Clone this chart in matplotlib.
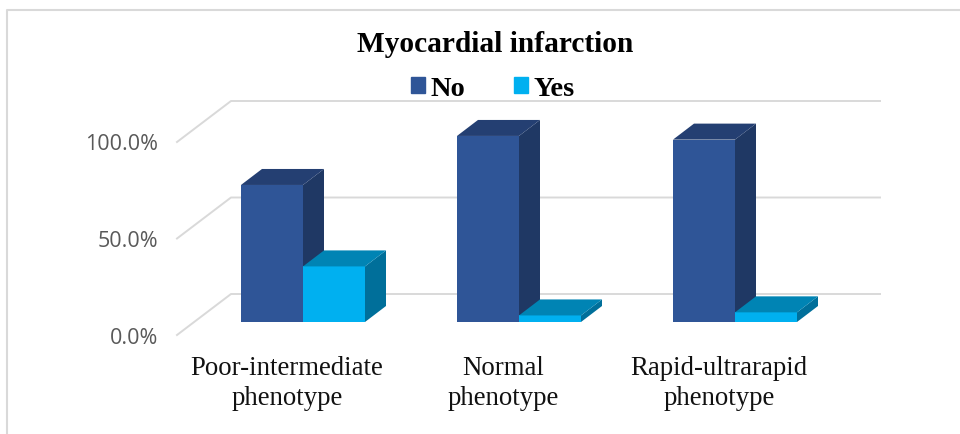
#!/usr/bin/env python3
"""Myocardial infarction by phenotype, drawn as a fake 3D bar chart."""
import matplotlib
matplotlib.use("Agg")
import matplotlib.pyplot as plt
from matplotlib.patches import Patch, Polygon

CATEGORIES = ["Poor-intermediate\nphenotype", "Normal\nphenotype", "Rapid-ultrarapid\nphenotype"]
NO_VALUES = [71.0, 96.4, 94.5]
YES_VALUES = [28.8, 3.4, 5.0]
Y_TICKS = [0, 50, 100]
Y_LABELS = ["0.0%", "50.0%", "100.0%"]
LABEL_CENTERS = [287, 503, 719]  # px

W, H = 960, 434
PX_X = 216.0  # px per category
PX_Y = 1.93  # px per percent
X0, Y0 = 303.0, 322.0  # pixel of first category / bar base
BAR_W = 62 / PX_X
DX, DY = 21 / PX_X, 16 / PX_Y  # bar depth
FLOOR_DY = 13 / PX_Y  # front of the floor is below the bar base
WALL_DX = 54 / PX_X
WALL_DY = 41 / PX_Y


def px_x(px):
    return (px - X0) / PX_X


def px_y(px):
    return (Y0 - px) / PX_Y


def bar_3d(ax, x, value, front, top, side):
    ax.bar(x, value, BAR_W, align="edge", color=front, edgecolor="none", zorder=3)
    ax.add_patch(Polygon([(x, value), (x + DX, value + DY), (x + BAR_W + DX, value + DY), (x + BAR_W, value)],
                         facecolor=top, edgecolor="none", zorder=3))
    ax.add_patch(Polygon([(x + BAR_W, 0), (x + BAR_W + DX, DY), (x + BAR_W + DX, value + DY), (x + BAR_W, value)],
                         facecolor=side, edgecolor="none", zorder=2.5))


fig = plt.figure(figsize=(W / 100, H / 100), dpi=100)
ax = fig.add_axes([0, 0, 1, 1])
ax.set_xlim(px_x(0), px_x(W))
ax.set_ylim(px_y(H), px_y(0))
ax.axis("off")

# chart frame, open on the right and at the bottom
ax.plot([px_x(7), px_x(7), px_x(W)], [px_y(H), px_y(10), px_y(10)], color="#d9d9d9", lw=1.5, zorder=1)

# gridlines with the slanted side wall
for tick, label in zip(Y_TICKS, Y_LABELS):
    left = px_x(177)
    y_front = tick - FLOOR_DY
    y_back = y_front + WALL_DY
    ax.plot([left, left + WALL_DX, px_x(880)], [y_front, y_back, y_back], color="#d9d9d9", lw=1.4, zorder=1)
    ax.text(px_x(158.5), y_front - 3 / PX_Y, label, ha="right", va="center", fontsize=15.5, family="Open Sans",
            color="#595959")

for i, name in enumerate(CATEGORIES):
    bar_3d(ax, i - BAR_W, NO_VALUES[i], "#2f5597", "#243f72", "#1f3864")
    bar_3d(ax, i, YES_VALUES[i], "#00b0f0", "#0084b4", "#006f9a")
    ax.text(px_x(LABEL_CENTERS[i]), px_y(383.5), name, ha="center", va="center", fontsize=19.3,
            family="Liberation Serif", color="#111111", linespacing=1.28)

ax.text(px_x(495), px_y(45), "Myocardial infarction", ha="center", va="center", fontsize=21.2,
        fontweight="bold", family="Liberation Serif", color="black")

handles = [Patch(color="#2f5597", label="No"), Patch(color="#00b0f0", label="Yes")]
ax.legend(handles=handles, ncol=2, frameon=False, loc="center", bbox_to_anchor=(493 / W, 1 - 89 / H),
          prop={"family": "Liberation Serif", "weight": "bold", "size": 20.5},
          handlelength=0.49, handleheight=0.49, handletextpad=0.2, columnspacing=1.72)

fig.savefig("out.png", dpi=100)
